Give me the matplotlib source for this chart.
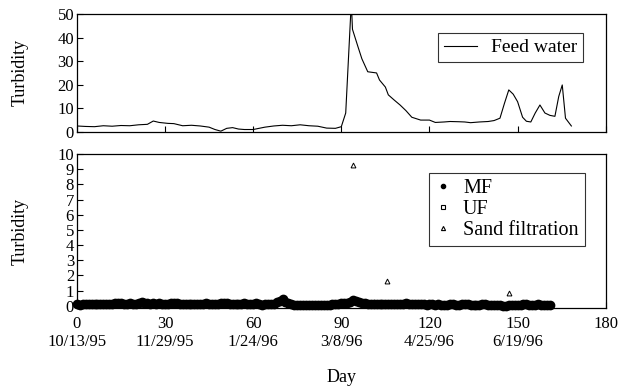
import numpy as np
import matplotlib
matplotlib.use("Agg")
import matplotlib.pyplot as plt
from matplotlib.lines import Line2D

plt.rcParams['font.family'] = ['Liberation Serif', 'DejaVu Serif']

# feed water turbidity (upper panel)
feed_day = [0, 3, 6, 9, 12, 15, 18, 21, 24, 26, 28, 31, 33, 36, 39, 42, 45, 47, 49,
            51, 53, 55, 57, 60, 62, 64, 67, 70, 73, 76, 79, 82, 85, 88, 90, 91.5,
            93.4, 93.8, 95.7, 97, 99, 102, 103, 105, 106, 108, 110, 112, 114, 117,
            120, 122, 125, 127, 130, 132, 134, 137, 140, 142, 144, 145.5, 147,
            148.5, 150, 151.7, 153, 154.5, 156, 157.6, 159.3, 161, 162.7, 164,
            165.2, 166.3, 168.3]
feed_val = [2.5, 2.3, 2.2, 2.6, 2.4, 2.7, 2.6, 3.0, 3.2, 4.6, 4.0, 3.6, 3.5, 2.6, 2.8,
            2.5, 2.0, 1.0, 0.3, 1.5, 1.8, 1.2, 1.0, 1.0, 1.5, 2.0, 2.5, 2.8, 2.6, 3.0,
            2.6, 2.4, 1.6, 1.5, 2.2, 8.0, 55.0, 43.5, 36.0, 31.0, 25.5, 25.0, 22.0,
            19.0, 15.7, 13.5, 11.4, 9.0, 6.2, 5.0, 5.0, 4.0, 4.2, 4.4, 4.3, 4.2, 3.9,
            4.2, 4.4, 4.8, 5.8, 12.0, 17.8, 16.0, 12.8, 6.2, 4.5, 4.2, 8.0, 11.4, 8.0,
            7.0, 6.6, 15.0, 19.9, 5.8, 2.5]

# MF filtrate, daily
mf_day = np.arange(0, 162)
mf_val = [0.10, 0.08, 0.12, 0.10, 0.09, 0.11, 0.13, 0.10, 0.12, 0.11,
          0.10, 0.12, 0.14, 0.18, 0.20, 0.16, 0.15, 0.13, 0.17, 0.15,
          0.14, 0.18, 0.22, 0.19, 0.16, 0.15, 0.17, 0.14, 0.16, 0.15,
          0.13, 0.15, 0.17, 0.19, 0.16, 0.14, 0.15, 0.13, 0.12, 0.14,
          0.13, 0.12, 0.15, 0.14, 0.16, 0.13, 0.12, 0.14, 0.15, 0.17,
          0.20, 0.18, 0.14, 0.12, 0.10, 0.11, 0.13, 0.16, 0.14, 0.10,
          0.12, 0.18, 0.14, 0.08, 0.12, 0.10, 0.13, 0.15, 0.22, 0.32,
          0.42, 0.28, 0.16, 0.10, 0.06, 0.04, 0.05, 0.03, 0.06, 0.04,
          0.05, 0.07, 0.04, 0.03, 0.05, 0.06, 0.08, 0.10, 0.12, 0.15,
          0.18, 0.16, 0.20, 0.28, 0.36, 0.30, 0.22, 0.18, 0.20, 0.15,
          0.13, 0.12, 0.10, 0.14, 0.12, 0.10, 0.11, 0.13, 0.12, 0.10,
          0.12, 0.14, 0.16, 0.12, 0.10, 0.09, 0.11, 0.12, 0.10, 0.08,
          0.10, 0.09, 0.08, 0.10, 0.07, 0.06, 0.08, 0.10, 0.12, 0.08,
          0.07, 0.09, 0.12, 0.10, 0.08, 0.06, 0.05, 0.07, 0.10, 0.12,
          0.08, 0.05, 0.03, 0.04, 0.06, 0.02, 0.00, 0.05, 0.04, 0.06,
          0.08, 0.07, 0.09, 0.10, 0.08, 0.06, 0.07, 0.09, 0.06, 0.05,
          0.04, 0.03]

# UF filtrate
uf_day = [2, 8, 14, 20, 26, 32, 38, 42.4, 48, 54, 60, 66, 72, 78, 84, 90, 95,
          102, 110, 118, 126, 134, 142, 150, 158]
uf_val = [0.08, 0.10, 0.12, 0.10, 0.12, 0.10, 0.09, 0.26, 0.10, 0.08, 0.09, 0.10,
          0.08, 0.04, 0.04, 0.10, 0.32, 0.08, 0.08, 0.07, 0.06, 0.06, 0.04, 0.05, 0.05]

# sand filtration
sand_day = [5, 15, 25, 35, 45, 55, 65, 75, 85, 93.9, 95.2, 96.3, 98.5, 101,
            105.4, 112, 120, 130, 140, 147.1, 155]
sand_val = [0.08, 0.10, 0.10, 0.09, 0.10, 0.09, 0.10, 0.05, 0.05, 9.27, 0.40, 0.30,
            0.28, 0.22, 1.65, 0.10, 0.08, 0.07, 0.06, 0.85, 0.06]

tick_days = [0, 30, 60, 90, 120, 150, 180]
tick_dates = ["10/13/95", "11/29/95", "1/24/96", "3/8/96", "4/25/96", "6/19/96", ""]

fig = plt.figure(figsize=(6.2, 3.89), dpi=100)
ax1 = fig.add_axes([0.124, 0.661, 0.853, 0.303])
ax2 = fig.add_axes([0.124, 0.208, 0.853, 0.396])

ax1.plot(feed_day, feed_val, color="black", lw=0.8, label="Feed water")
ax1.set_xlim(0, 180)
ax1.set_ylim(0, 50)
ax1.set_yticks([0, 10, 20, 30, 40, 50])
ax1.set_xticks(tick_days)
ax1.set_xticklabels([])
ax1.set_ylabel("Turbidity", fontsize=13, labelpad=21)
leg1 = ax1.legend(loc="upper right", bbox_to_anchor=(0.957, 0.84), fontsize=14,
                  frameon=True, fancybox=False, edgecolor="black", handlelength=1.7,
                  borderpad=0.3, handletextpad=0.7, borderaxespad=0)
leg1.get_frame().set_linewidth(0.8)

ax2.plot(sand_day, sand_val, linestyle="none", marker="^", ms=3.5, mfc="white",
         mec="black", mew=0.7)
ax2.plot(uf_day, uf_val, linestyle="none", marker="s", ms=3.5, mfc="white",
         mec="black", mew=0.7)
ax2.plot(mf_day, mf_val, linestyle="none", marker="o", ms=6, color="black",
         clip_on=False)
ax2.set_xlim(0, 180)
ax2.set_ylim(-0.15, 10)
ax2.set_yticks(range(0, 11))
ax2.set_xticks(tick_days)
ax2.set_xticklabels([f"{d}\n{s}" for d, s in zip(tick_days, tick_dates)],
                    linespacing=1.1)
ax2.set_ylabel("Turbidity", fontsize=13, labelpad=21)
ax2.set_xlabel("Day", fontsize=13, labelpad=14)

handles = [Line2D([], [], linestyle="none", marker="o", ms=3, color="black"),
           Line2D([], [], linestyle="none", marker="s", ms=3, mfc="white", mec="black", mew=0.8),
           Line2D([], [], linestyle="none", marker="^", ms=3, mfc="white", mec="black", mew=0.8)]
leg2 = ax2.legend(handles, ["MF", "UF", "Sand filtration"], loc="upper right",
                  bbox_to_anchor=(0.96, 0.877), fontsize=14.5, frameon=True,
                  fancybox=False, edgecolor="black", handlelength=0.8,
                  borderpad=0.3, handletextpad=0.6, labelspacing=0.1,
                  borderaxespad=0)
leg2.get_frame().set_linewidth(0.8)

for ax in (ax1, ax2):
    ax.tick_params(direction="in", length=4, width=0.8, labelsize=12, pad=2)
    for sp in ax.spines.values():
        sp.set_linewidth(0.9)
ax2.tick_params(axis="x", pad=6)

fig.savefig("out.png", dpi=100)
